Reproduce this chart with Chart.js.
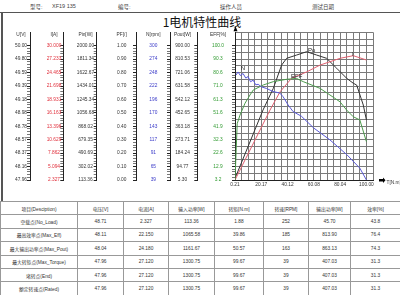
<!DOCTYPE html>
<html>
<head>
<meta charset="utf-8">
<script src="https://cdn.jsdelivr.net/npm/chart.js@4.4.1/dist/chart.umd.min.js"></script>
<style>
  body { margin: 0; width: 400px; height: 295px; overflow: hidden; background: #fff; position: relative;
         font-family: "Liberation Sans", Arial, "Noto Sans CJK SC", sans-serif; color: #333; }
  .abs { position: absolute; white-space: nowrap; }
  .top { font-size: 5.5px; top: 3px; color: #444; }
  .title { top: 13px; left: 0; width: 404px; text-align: center; font-size: 12px; color: #111;
           font-family: "Noto Sans CJK SC", sans-serif; }
  .colh { top: 32px; font-size: 4.8px; color: #333; transform: translateX(-50%); }
  #c { position: absolute; left: 0; top: 0; }
  table { position: absolute; left: 0; top: 201px; width: 400px; border-collapse: collapse; table-layout: fixed;
          font-size: 4.8px; color: #333; }
  td { border: 1px solid #999; text-align: center; height: 12.4px; padding: 0; }
</style>
</head>
<body>
<div class="abs top" style="left:30px">型号:</div>
<div class="abs top" style="left:52px">XF19 135</div>
<div class="abs top" style="left:118px">编号:</div>
<div class="abs top" style="left:220px">操作人员</div>
<div class="abs top" style="left:312px">测试日期</div>
<div class="abs" style="left:0;top:12px;width:400px;height:1px;background:#555"></div>
<div class="abs" style="left:1px;top:12px;width:1.5px;height:189px;background:#555"></div>
<div class="abs title">1电机特性曲线</div>

<canvas id="c" width="400" height="196"></canvas>
<div id="heads"></div>
<table id="tbl"></table>

<script>
// ── axis tick labels (top to bottom) ──────────────────────────
const uTicks    = ['50.00','49.80','49.59','49.39','49.18','48.98','48.78','48.57','48.37','48.16','47.96'];
const iTicks    = ['30.000','27.233','24.465','21.698','18.931','16.163','13.396','10.629','7.862','5.094','2.327'];
const pinTicks  = ['2000.00','1811.34','1622.67','1434.01','1245.34','1056.68','868.02','679.35','490.69','302.02','113.36'];
const pfTicks   = ['1.00','0.90','0.80','0.70','0.60','0.50','0.40','0.30','0.20','0.10','0.00'];
const nTicks    = ['300','274','248','222','196','170','143','117','91','65','39'];
const poutTicks = ['900.00','810.53','721.06','631.58','542.12','452.65','363.18','273.71','184.24','94.77','5.30'];
const effTicks  = ['100.0','90.3','80.6','71.0','61.3','51.6','41.9','32.3','22.6','12.9','3.2'];
const torqueTicks = ['0.21','20.17','40.12','60.08','80.04','100.00'];

// ── curves ────────────────────────────────────────────────────
const nTorque = [1.0, 2.5, 4.3, 6.3, 8.4, 10.1, 12.0, 14.0, 16.0, 17.8, 20.3, 24.1, 29.1, 34.2, 36.7, 40.5, 44.3, 50.6, 60.0, 72.3, 85.2, 95.0, 100.0];
const nSpeed  = [243, 249, 242, 246, 237, 240, 230, 233, 224, 225, 220, 217, 211, 208, 201, 185, 172, 163, 140, 117, 88, 62, 39];

const iTorque  = [0.21, 26.8, 34.4, 43.2, 54.6, 64.7, 72.3, 79.9, 90.0, 100.0];
const iCurrent = [2.33, 16.75, 20.5, 23.3, 24.6, 26.0, 26.7, 27.4, 27.95, 27.06];

const poTorque = [0.97, 21.5, 29.3, 35.6, 39.4, 47.0, 54.6, 62.2, 69.8, 77.4, 85.0, 90.0, 92.6, 97.6, 100.0];
const poPower  = [32, 472, 616, 771, 816, 838, 860, 838, 816, 750, 683, 650, 638, 505, 405];

const effTorque = [0.21, 1.88, 4.0, 7.8, 11.6, 14.1, 21.7, 29.3, 39.4, 47.0, 52.0, 64.7, 72.3, 79.9, 85.0, 90.0, 95.0, 100.0];
const effValue  = [3.2, 43.8, 50.0, 58.5, 64.5, 68.1, 71.7, 74.1, 75.8, 76.4, 74.1, 69.3, 64.5, 59.6, 53.6, 48.8, 46.5, 30.8];

// ── result table ─────────────────────────────────────────────
const tableHead = ['项目(Desciption)','电压[V]','电流[A]','输入功率[W]','转矩[N.m]','转速[RPM]','输出功率[W]','效率[%]'];
const tableRows = [
  ['空载点(No_Load)',        '48.71','2.327', '113.36', '1.88', '252','45.70', '43.8'],
  ['最高效率点(Max_Eff)',     '48.11','22.150','1065.58','39.86','185','813.90','76.4'],
  ['最大输出功率点(Max_Pout)','48.04','24.180','1161.67','50.57','163','863.13','74.3'],
  ['最大转矩点(Max_Torque)',  '47.96','27.120','1300.75','99.67','39', '407.03','31.3'],
  ['堵转点(End)',            '47.96','27.120','1300.75','99.67','39', '407.03','31.3'],
  ['额定转速点(Rated)',       '47.96','27.120','1300.75','99.67','39', '407.03','31.3']
];
const colWidths = [77, 46, 45, 46, 49, 45, 42, 50];

const RED = '#e0303c', BLUE = '#3a3ac8', GREEN = '#2f9a2f', DARK = '#333';
const FONT_FAMILY = '"Liberation Sans", Arial, sans-serif';
const TICK_SIZE = 4.8;

// left axis columns: line x, label centre x, header
const axisDefs = [
  { id: 'eff',  labels: effTicks,  color: GREEN, line: 235,   centre: 218,   head: 'EFF[%]' },
  { id: 'pout', labels: poutTicks, color: DARK,  line: 197.3, centre: 182.5, head: 'Pout[W]' },
  { id: 'n',    labels: nTicks,    color: BLUE,  line: 170,   centre: 153.3, head: 'N[rpm]' },
  { id: 'pf',   labels: pfTicks,   color: DARK,  line: 136,   centre: 121.7, head: 'PF[/]' },
  { id: 'pin',  labels: pinTicks,  color: DARK,  line: 96.7,  centre: 85.5,  head: 'Pin[W]' },
  { id: 'i',    labels: iTicks,    color: RED,   line: 63.3,  centre: 54,    head: 'I[A]' },
  { id: 'u',    labels: uTicks,    color: DARK,  line: 30,    centre: 21,    head: 'U[V]' }
];

const meas = document.createElement('canvas').getContext('2d');
meas.font = TICK_SIZE + 'px ' + FONT_FAMILY;
const widest = arr => Math.max(...arr.map(t => meas.measureText(t).width));

const TICK_LEN = 3;
const scales = {};
axisDefs.forEach((d, k) => {
  const lo = parseFloat(d.labels[10]), hi = parseFloat(d.labels[0]);
  const prevLine = k < axisDefs.length - 1 ? axisDefs[k + 1].line : 0;
  const width = d.line - prevLine;
  const pad = d.line - TICK_LEN - widest(d.labels) / 2 - d.centre;
  scales[d.id] = {
    type: 'linear', position: 'left',
    min: lo, max: hi + (hi - lo) / 10,
    afterBuildTicks: s => { s.ticks = []; for (let i = 0; i <= 50; i++) s.ticks.push({ value: lo + (hi - lo) * i / 50 }); },
    afterFit: s => { s.width = width; },
    border: { display: true, color: '#222', width: 1 },
    grid: { drawOnChartArea: false, drawTicks: true, tickLength: TICK_LEN,
            tickColor: c => c.index % 5 === 0 ? '#222' : '#777', tickWidth: 1 },
    ticks: { autoSkip: false, crossAlign: 'center', padding: pad, color: d.color,
             font: { family: FONT_FAMILY, size: TICK_SIZE },
             callback: (v, i) => i % 5 === 0 ? d.labels[10 - i / 5] : '' }
  };
});

// horizontal grid every half label step, one step above the top label
scales.g = {
  type: 'linear', position: 'left', min: 0, max: 22,
  afterBuildTicks: s => { s.ticks = []; for (let i = 0; i <= 22; i++) s.ticks.push({ value: i }); },
  afterFit: s => { s.width = 0; },
  border: { display: false },
  grid: { color: '#7a7a7a', lineWidth: 1, drawTicks: false },
  ticks: { display: false }
};

const xLo = parseFloat(torqueTicks[0]), xStep = (parseFloat(torqueTicks[5]) - xLo) / 20;
scales.x = {
  type: 'linear', position: 'bottom', min: xLo, max: xLo + 21 * xStep,
  afterBuildTicks: s => { s.ticks = []; for (let i = 0; i <= 21; i++) s.ticks.push({ value: xLo + i * xStep }); },
  afterFit: s => { s.height = 16; },
  border: { display: true, color: '#222' },
  grid: { color: '#7a7a7a', lineWidth: 1, drawTicks: false },
  ticks: { autoSkip: false, maxRotation: 0, padding: 1.5, color: DARK,
           font: { family: FONT_FAMILY, size: TICK_SIZE },
           callback: (v, i) => (i % 4 === 0 && i / 4 <= 5) ? torqueTicks[i / 4] : '' }
};

const pts = (xs, ys) => xs.map((x, i) => ({ x, y: ys[i] }));
const line = (label, data, axis, color) => ({
  label, data, yAxisID: axis, borderColor: color, borderWidth: 1,
  pointRadius: 0, tension: 0, fill: false
});

// curve names and an anchor point in data units
const curveLabels = [
  { text: 'Po',  axis: 'pout', x: 58.4, y: 871 },
  { text: 'I',   axis: 'i',    x: 89.7, y: 28.3 },
  { text: 'EFF', axis: 'eff',  x: 47.0, y: 77.7 },
  { text: 'N',   axis: 'n',    x: 6.3,  y: 257 }
];

const decor = {
  id: 'decor',
  afterDraw(c) {
    const { ctx, chartArea: a } = c;
    ctx.save();
    ctx.fillStyle = '#000';
    ctx.beginPath();
    ctx.moveTo(a.left + 0.5, a.top - 6); ctx.lineTo(a.left - 1.5, a.top - 1); ctx.lineTo(a.left + 2.5, a.top - 1);
    ctx.fill();
    ctx.fillRect(a.right + 6, a.bottom - 1, 4, 2.5);
    ctx.beginPath();
    ctx.moveTo(a.right + 12.5, a.bottom + 0.2); ctx.lineTo(a.right + 10, a.bottom - 2.5); ctx.lineTo(a.right + 10, a.bottom + 3);
    ctx.fill();
    ctx.fillStyle = DARK;
    ctx.font = TICK_SIZE + 'px ' + FONT_FAMILY;
    ctx.textBaseline = 'middle';
    ctx.fillText('T[N.m]', a.right + 13.5, a.bottom + 3);
    ctx.font = '6px ' + FONT_FAMILY;
    ctx.textAlign = 'center';
    ctx.fillStyle = '#222';
    curveLabels.forEach(l => {
      ctx.fillText(l.text, c.scales.x.getPixelForValue(l.x), c.scales[l.axis].getPixelForValue(l.y));
    });
    ctx.restore();
  }
};

new Chart(document.getElementById('c'), {
  type: 'line',
  data: {
    datasets: [
      line('N',   pts(nTorque, nSpeed),     'n',    '#5a5ad8'),
      line('EFF', pts(effTorque, effValue), 'eff',  '#4c9a4c'),
      line('I',   pts(iTorque, iCurrent),   'i',    '#e06070'),
      line('Po',  pts(poTorque, poPower),   'pout', '#333')
    ]
  },
  options: {
    responsive: false, animation: false,
    layout: { padding: { top: 32.3, right: 27, left: 0, bottom: 0 } },
    plugins: { legend: { display: false }, tooltip: { enabled: false } },
    scales
  },
  plugins: [decor]
});

// column headers above the axis columns
const heads = document.getElementById('heads');
axisDefs.forEach(d => {
  const el = document.createElement('div');
  el.className = 'abs colh';
  el.style.left = d.centre + 'px';
  el.textContent = d.head;
  heads.appendChild(el);
});

// table
const tbl = document.getElementById('tbl');
const cg = document.createElement('colgroup');
colWidths.forEach(w => { const c = document.createElement('col'); c.style.width = w + 'px'; cg.appendChild(c); });
tbl.appendChild(cg);
[tableHead, ...tableRows].forEach(r => {
  const tr = document.createElement('tr');
  r.forEach(v => { const td = document.createElement('td'); td.textContent = v; tr.appendChild(td); });
  tbl.appendChild(tr);
});
</script>
</body>
</html>
